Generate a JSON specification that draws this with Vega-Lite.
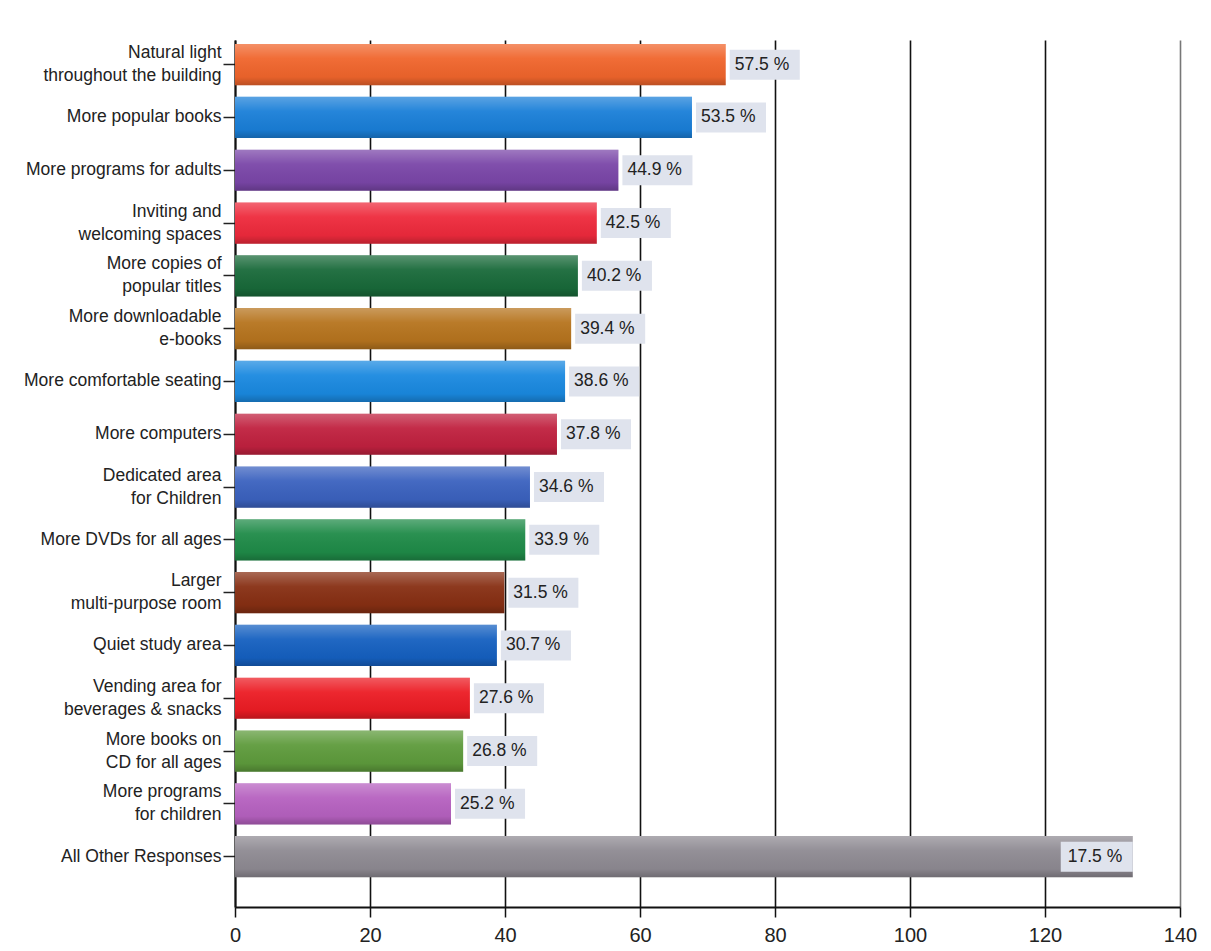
{
  "$schema": "https://vega.github.io/schema/vega-lite/v6.json",
  "width": 945,
  "height": 867,
  "autosize": {"type": "none"},
  "padding": {"left": 235, "top": 40, "right": 31, "bottom": 44},
  "background": "white",
  "config": {
    "view": {"stroke": null},
    "font": "Liberation Sans, Arial, sans-serif"
  },
  "data": {
    "values": [
      {"name": "Natural light|throughout the building", "length": 72.7, "pct": 57.5},
      {"name": "More popular books", "length": 67.7, "pct": 53.5},
      {"name": "More programs for adults", "length": 56.8, "pct": 44.9},
      {"name": "Inviting and|welcoming spaces", "length": 53.6, "pct": 42.5},
      {"name": "More copies of|popular titles", "length": 50.8, "pct": 40.2},
      {"name": "More downloadable|e-books", "length": 49.8, "pct": 39.4},
      {"name": "More comfortable seating", "length": 48.9, "pct": 38.6},
      {"name": "More computers", "length": 47.7, "pct": 37.8},
      {"name": "Dedicated area|for Children", "length": 43.7, "pct": 34.6},
      {"name": "More DVDs for all ages", "length": 43.0, "pct": 33.9},
      {"name": "Larger|multi-purpose room", "length": 39.9, "pct": 31.5},
      {"name": "Quiet study area", "length": 38.8, "pct": 30.7},
      {"name": "Vending area for|beverages & snacks", "length": 34.8, "pct": 27.6},
      {"name": "More books on|CD for all ages", "length": 33.8, "pct": 26.8},
      {"name": "More programs|for children", "length": 32.0, "pct": 25.2},
      {"name": "All Other Responses", "length": 133.0, "pct": 17.5}
    ]
  },
  "transform": [
    {"calculate": "format(datum.pct, '.1f') + ' %'", "as": "pctLabel"}
  ],
  "encoding": {
    "y": {
      "field": "name",
      "type": "nominal",
      "sort": null,
      "scale": {"paddingInner": 0.22, "paddingOuter": 0.32, "align": 0.12},
      "axis": {
        "title": null,
        "labelExpr": "split(datum.value, '|')",
        "labelFontSize": 17.5,
        "labelColor": "#222222",
        "labelLineHeight": 23,
        "labelOffset": {"condition": {"test": "indexof(datum.value, '|') >= 0", "value": -11.5}, "value": 0},
        "labelPadding": 2,
        "labelLimit": 260,
        "domainColor": "#111111",
        "domainWidth": 2,
        "tickColor": "#222222",
        "tickSize": 12,
        "tickWidth": 1.5
      }
    }
  },
  "layer": [
    {
      "mark": {"type": "bar"},
      "encoding": {
        "x": {
          "field": "length",
          "type": "quantitative",
          "scale": {"domain": [0, 140], "nice": false},
          "axis": {
            "title": null,
            "values": [0, 20, 40, 60, 80, 100, 120, 140],
            "grid": true,
            "gridColor": {"condition": {"test": "datum.value === 140", "value": "#777777"}, "value": "#111111"},
            "gridWidth": 1.6,
            "gridOpacity": 1,
            "domainColor": "#111111",
            "domainWidth": 2,
            "tickColor": "#111111",
            "tickSize": 10,
            "tickWidth": 1.5,
            "labelFontSize": 20,
            "labelColor": "#222222",
            "labelPadding": 8,
            "labelFlush": false
          }
        },
        "color": {
          "field": "name",
          "type": "nominal",
          "sort": null,
          "legend": null,
          "scale": {
            "range": ["#f0652c", "#1a7fd8", "#7a46a8", "#ee2a3c", "#196a3a", "#b6741e", "#1a89e0", "#c0213f", "#3b62bf", "#1f8b48", "#872f13", "#1560c0", "#ec1c24", "#5e9b3c", "#b661c0", "#8e8a92"]
          }
        }
      }
    },
    {
      "mark": {
        "type": "bar",
        "color": {
          "gradient": "linear",
          "x1": 0, "y1": 0, "x2": 0, "y2": 1,
          "stops": [
            {"offset": 0, "color": "rgba(255,255,255,0.28)"},
            {"offset": 0.35, "color": "rgba(255,255,255,0.05)"},
            {"offset": 0.8, "color": "rgba(0,0,0,0.04)"},
            {"offset": 1, "color": "rgba(0,0,0,0.22)"}
          ]
        }
      },
      "encoding": {
        "x": {"field": "length", "type": "quantitative"}
      }
    },
    {
      "transform": [{"filter": "datum.name !== 'All Other Responses'"}],
      "mark": {
        "type": "point",
        "shape": "M0,-1H4.67V1H0Z",
        "size": 900,
        "filled": true,
        "opacity": 1,
        "strokeWidth": 0,
        "color": "#dfe3ed",
        "xOffset": 4
      },
      "encoding": {
        "x": {"field": "length", "type": "quantitative"}
      }
    },
    {
      "transform": [{"filter": "datum.name === 'All Other Responses'"}],
      "mark": {
        "type": "point",
        "shape": "M-4.8,-1H0V1H-4.8Z",
        "size": 900,
        "filled": true,
        "opacity": 1,
        "strokeWidth": 0,
        "color": "#dfe3ed"
      },
      "encoding": {
        "x": {"field": "length", "type": "quantitative"}
      }
    },
    {
      "transform": [{"filter": "datum.name !== 'All Other Responses'"}],
      "mark": {"type": "text", "align": "left", "baseline": "middle", "dx": 9, "fontSize": 17.5, "color": "#222222"},
      "encoding": {
        "x": {"field": "length", "type": "quantitative"},
        "text": {"field": "pctLabel"}
      }
    },
    {
      "transform": [{"filter": "datum.name === 'All Other Responses'"}],
      "mark": {"type": "text", "align": "left", "baseline": "middle", "dx": -65, "fontSize": 17.5, "color": "#222222"},
      "encoding": {
        "x": {"field": "length", "type": "quantitative"},
        "text": {"field": "pctLabel"}
      }
    }
  ]
}
